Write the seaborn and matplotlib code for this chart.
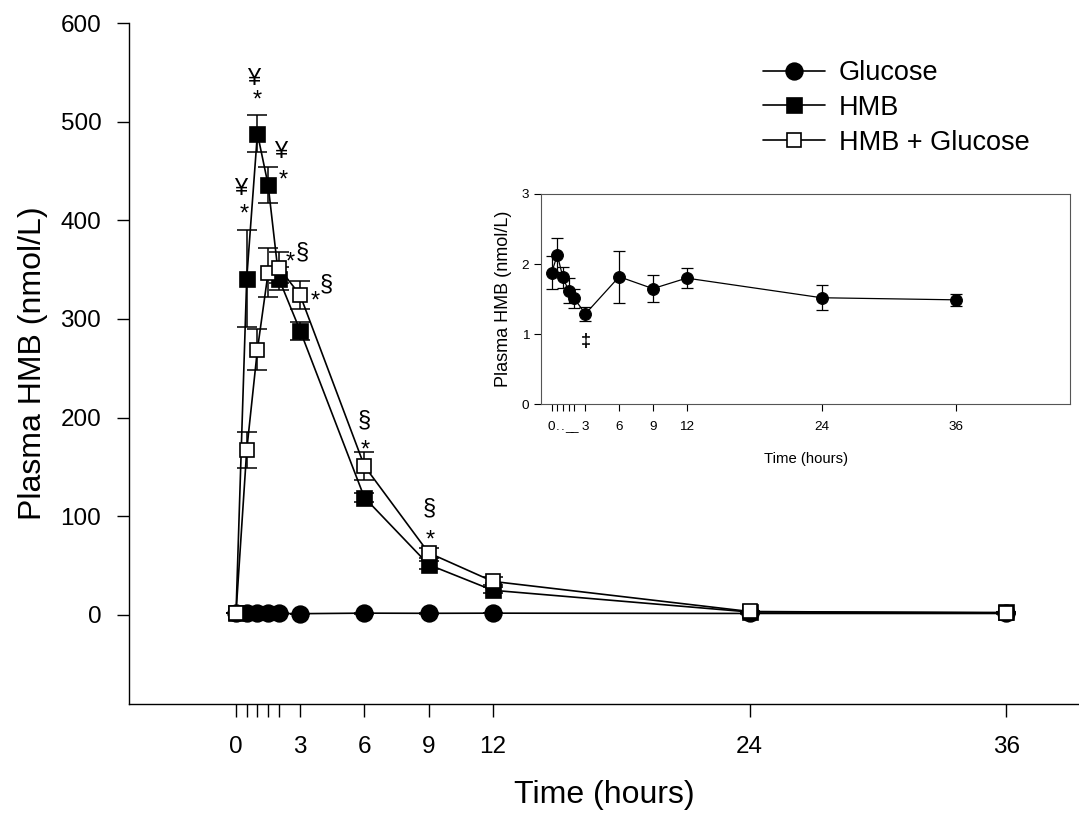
import numpy as np
import pandas as pd
import matplotlib
matplotlib.use("Agg")
import matplotlib.pyplot as plt
import seaborn as sns

# ---------------- data ----------------
time_h = [0, 0.5, 1, 1.5, 2, 3, 6, 9, 12, 24, 36]

glucose_mean = [1.88, 2.13, 1.81, 1.62, 1.51, 1.29, 1.82, 1.65, 1.80, 1.52, 1.49]
glucose_err = [0.23, 0.24, 0.15, 0.18, 0.13, 0.10, 0.37, 0.19, 0.14, 0.18, 0.085]

hmb_mean = [1.9, 341, 488, 436, 341, 288, 119, 51, 25, 3, 2.5]
hmb_err = [0.3, 49, 19, 18, 12, 9, 5, 4, 3, 1, 0.5]

hmbglu_mean = [2, 167, 269, 347, 352, 324, 151, 63, 34, 3.5, 2]
hmbglu_err = [0.3, 18, 21, 25, 16, 14, 14, 5, 4, 1, 0.5]

series_names = ["Glucose", "HMB", "HMB + Glucose"]

x_ticks = [0, 0.5, 1, 1.5, 2, 3, 6, 9, 12, 24, 36]
x_ticklabels = ["0", "", "", "", "", "3", "6", "9", "12", "24", "36"]
inset_x_ticklabels = ["0", ".", ".", "_", "_", "3", "6", "9", "12", "24", "36"]
y_ticks = [0, 100, 200, 300, 400, 500, 600]
inset_y_ticks = [0, 1, 2, 3]

# annotations: (text, x, y)
main_annotations = [
    ("¥", 0.23, 432), ("*", 0.36, 406),
    ("¥", 0.81, 543), ("*", 0.97, 521),
    ("¥", 2.10, 469), ("*", 2.19, 440),
    ("*", 2.53, 357), ("§", 3.09, 367),
    ("*", 3.69, 318), ("§", 4.20, 335),
    ("§", 6.00, 197), ("*", 6.05, 167),
    ("§", 9.04, 108), ("*", 9.07, 75),
]
inset_annotation = ("‡", 3, 0.89)

# ---------------- style ----------------
sns.set_style("ticks")
plt.rcParams["font.family"] = ["Liberation Sans", "DejaVu Sans"]
plt.rcParams.update({
    "axes.linewidth": 1.0,
    "text.color": "black",
    "axes.labelcolor": "black",
    "axes.edgecolor": "black",
    "xtick.color": "black",
    "ytick.color": "black",
})

fig = plt.figure(figsize=(10.79, 8.13), dpi=100)
ax = fig.add_axes([0.1196, 0.1344, 0.8804, 0.8373])

df = pd.DataFrame({
    "time": time_h * 3,
    "value": glucose_mean + hmb_mean + hmbglu_mean,
    "err": glucose_err + hmb_err + hmbglu_err,
    "group": sum([[n] * len(time_h) for n in series_names], []),
})

styles = {
    "Glucose": dict(marker="o", mfc="black", ms=12, z=3),
    "HMB": dict(marker="s", mfc="black", ms=10.8, z=4),
    "HMB + Glucose": dict(marker="s", mfc="white", ms=10.5, z=5),
}

for name in series_names:
    sub = df[df["group"] == name]
    st = styles[name]
    ax.errorbar(sub["time"], sub["value"], yerr=sub["err"], fmt="none",
                ecolor="black", elinewidth=1.1, capsize=7, capthick=1.1,
                zorder=st["z"] - 0.5)
    sns.lineplot(data=sub, x="time", y="value", ax=ax, color="black",
                 linewidth=1.2, marker=st["marker"], markersize=st["ms"],
                 markerfacecolor=st["mfc"], markeredgecolor="black",
                 markeredgewidth=1.2, label=name, zorder=st["z"],
                 errorbar=None, sort=False)

for txt, x, y in main_annotations:
    ax.text(x, y, txt, ha="center", va="center", fontsize=17, color="black")

ax.set_xlim(-5.0, 39.4)
ax.set_ylim(-90, 600)
ax.set_xticks(x_ticks)
ax.set_xticklabels(x_ticklabels)
ax.set_yticks(y_ticks)
ax.tick_params(axis="both", direction="out", length=9, width=1.0,
               labelsize=17.5, color="black", labelcolor="black")
ax.tick_params(axis="x", pad=14)
ax.tick_params(axis="y", pad=11)
ax.set_xlabel("Time (hours)", fontsize=23, labelpad=16)
ax.set_ylabel("Plasma HMB (nmol/L)", fontsize=23, labelpad=9)
sns.despine(ax=ax)

leg = ax.legend(loc="upper left", bbox_to_anchor=(0.7071, 0.9262),
                bbox_transform=fig.transFigure, frameon=False, fontsize=19.5,
                handlelength=2.3, handletextpad=0.5, labelspacing=0.33,
                borderpad=0, borderaxespad=0)

# ---------------- inset ----------------
axi = fig.add_axes([0.5014, 0.5027, 0.4903, 0.2587])
gi = pd.DataFrame({"time": time_h, "value": glucose_mean, "err": glucose_err})
axi.errorbar(gi["time"], gi["value"], yerr=gi["err"], fmt="none",
             ecolor="black", elinewidth=0.9, capsize=4, capthick=0.9, zorder=2)
sns.lineplot(data=gi, x="time", y="value", ax=axi, color="black",
             linewidth=0.9, marker="o", markersize=8.5,
             markerfacecolor="black", markeredgecolor="black",
             errorbar=None, sort=False, zorder=3, legend=False)
axi.text(inset_annotation[1], inset_annotation[2], inset_annotation[0],
         ha="center", va="center", fontsize=13, fontweight="bold")
axi.set_xlim(-0.95, 46.1)
axi.set_ylim(0, 3)
axi.set_xticks(x_ticks)
axi.set_xticklabels(inset_x_ticklabels)
axi.set_yticks(inset_y_ticks)
axi.tick_params(axis="both", direction="out", length=5, width=0.8,
                labelsize=9.7, color="black", labelcolor="black")
axi.tick_params(axis="x", pad=7)
axi.set_xlabel("Time (hours)", fontsize=10.7, labelpad=14)
axi.set_ylabel("Plasma HMB (nmol/L)", fontsize=13, labelpad=7)
for s in axi.spines.values():
    s.set_linewidth(0.8)
    s.set_color("#555555")

fig.savefig("out.png", dpi=100)
